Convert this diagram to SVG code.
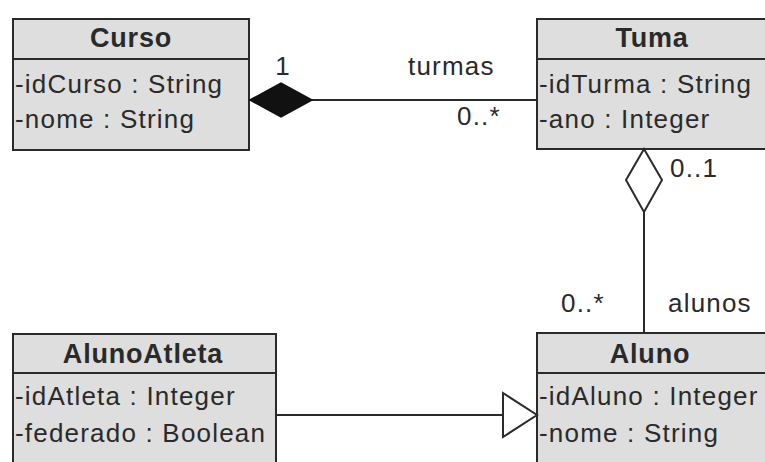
<svg xmlns="http://www.w3.org/2000/svg" width="765" height="462" viewBox="0 0 765 462">
  <style>
    .box { fill: #dedede; stroke: #2a2a2a; stroke-width: 2; }
    .sep { stroke: #2a2a2a; stroke-width: 2; }
    .title { font-family: "Liberation Sans", Arial, sans-serif; font-size: 27px; font-weight: bold; fill: #2a2a2a; text-anchor: middle; letter-spacing: 0.8px; }
    .attr { font-family: "Liberation Sans", Arial, sans-serif; font-size: 26px; fill: #2a2a2a; letter-spacing: 1.2px; }
    .lbl { font-family: "Liberation Sans", Arial, sans-serif; font-size: 26px; fill: #2a2a2a; letter-spacing: 1.2px; }
    .edge { stroke: #2a2a2a; stroke-width: 2; fill: none; }
  </style>
  <rect width="765" height="462" fill="#ffffff"/>

  <!-- classes -->
  <g id="curso">
    <rect class="box" x="13" y="19" width="236" height="131"/>
    <line class="sep" x1="13" y1="59" x2="249" y2="59"/>
    <text class="title" x="131" y="47">Curso</text>
    <text class="attr" x="15" y="93">-idCurso : String</text>
    <text class="attr" x="15" y="128">-nome : String</text>
  </g>

  <g id="tuma">
    <rect class="box" x="537" y="19" width="240" height="130"/>
    <line class="sep" x1="537" y1="59" x2="777" y2="59"/>
    <text class="title" x="652" y="47">Tuma</text>
    <text class="attr" x="539" y="93">-idTurma : String</text>
    <text class="attr" x="539" y="128">-ano : Integer</text>
  </g>

  <g id="aluno">
    <rect class="box" x="537" y="333" width="240" height="140"/>
    <line class="sep" x1="537" y1="373" x2="777" y2="373"/>
    <text class="title" x="650" y="363">Aluno</text>
    <text class="attr" x="539" y="405">-idAluno : Integer</text>
    <text class="attr" x="539" y="442">-nome : String</text>
  </g>

  <g id="alunoAtleta">
    <rect class="box" x="13" y="334" width="263" height="140"/>
    <line class="sep" x1="13" y1="373" x2="276" y2="373"/>
    <text class="title" x="143" y="363">AlunoAtleta</text>
    <text class="attr" x="15" y="405">-idAtleta : Integer</text>
    <text class="attr" x="15" y="442">-federado : Boolean</text>
  </g>

  <!-- connectors -->
  <g id="connectors">
    <!-- composition Curso-Tuma -->
    <line class="edge" x1="311" y1="100" x2="537" y2="100"/>
    <polygon points="250,100 281,83 312,100 281,117" fill="#111111" stroke="#111111" stroke-width="1.5"/>
    <!-- aggregation Tuma-Aluno -->
    <line class="edge" x1="644" y1="212" x2="644" y2="333"/>
    <polygon points="644,149 662,180 644,212 626,180" fill="#ffffff" stroke="#2a2a2a" stroke-width="2"/>
    <!-- generalization AlunoAtleta-Aluno -->
    <line class="edge" x1="276" y1="415" x2="503" y2="415"/>
    <polygon points="503,393 537,415 503,437" fill="#ffffff" stroke="#2a2a2a" stroke-width="2"/>
  </g>

  <!-- association labels -->
  <g id="labels">
    <text class="lbl" x="283" y="75" text-anchor="middle">1</text>
    <text class="lbl" x="408" y="75">turmas</text>
    <text class="lbl" x="457" y="125">0..*</text>
    <text class="lbl" x="670" y="177">0..1</text>
    <text class="lbl" x="561" y="312">0..*</text>
    <text class="lbl" x="668" y="312">alunos</text>
  </g>
</svg>
